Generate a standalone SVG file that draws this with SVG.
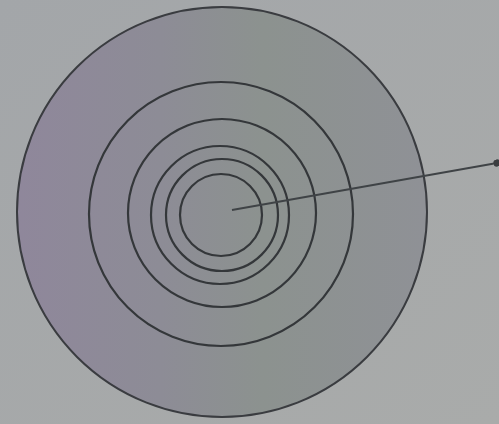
<svg xmlns="http://www.w3.org/2000/svg" width="499" height="424" viewBox="0 0 499 424">
<defs>
<linearGradient id="bg" x1="0" y1="0" x2="1" y2="1">
<stop offset="0" stop-color="#a3a6a9"/>
<stop offset="1" stop-color="#a9abaa"/>
</linearGradient>
<linearGradient id="disc" x1="0" y1="0" x2="1" y2="0">
<stop offset="0" stop-color="#8f879b"/>
<stop offset="0.35" stop-color="#8d8c96"/>
<stop offset="0.6" stop-color="#8c928f"/>
<stop offset="1" stop-color="#8f9196"/>
</linearGradient>
<marker id="dot" viewBox="0 0 6 6" refX="3" refY="3" markerWidth="4" markerHeight="4" orient="auto">
<circle cx="3" cy="3" r="3" fill="#3a3d40"/>
</marker>
<style>
.ring{fill:none;stroke:#34373a;stroke-width:2.2}
.outer{fill:url(#disc);stroke:#3a3c40;stroke-width:2}
.conn{fill:none;stroke:#3f4346;stroke-width:1.8}
</style>
</defs>
<rect width="499" height="424" fill="url(#bg)"/>
<g id="ring1"><circle class="outer" cx="222" cy="212" r="205"/></g>
<g id="ring2"><circle class="ring" cx="221" cy="214" r="132"/></g>
<g id="ring3"><circle class="ring" cx="222" cy="213" r="94"/></g>
<g id="ring4"><circle class="ring" cx="220" cy="215" r="69"/></g>
<g id="ring5"><circle class="ring" cx="222" cy="215" r="56"/></g>
<g id="ring6"><circle class="ring" cx="221" cy="215" r="41"/></g>
<g id="connectors">
<path class="conn" d="M232,210 L497,163" marker-end="url(#dot)"/>
</g>
</svg>
